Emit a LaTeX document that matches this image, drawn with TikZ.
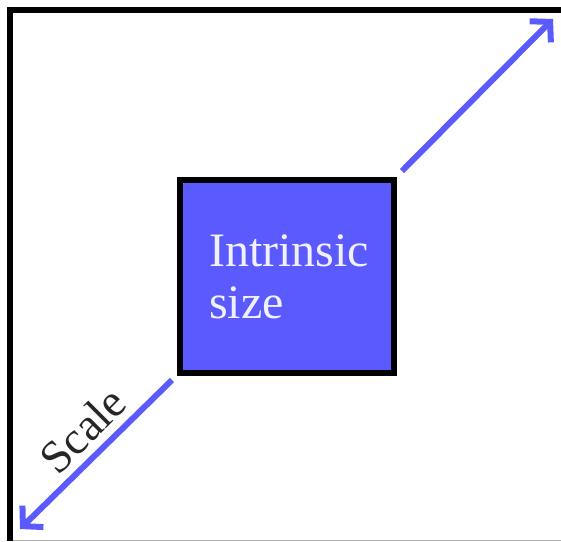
\documentclass[tikz,border=0pt]{standalone}
\usepackage{fontspec}
\setmainfont{Liberation Serif}
\usetikzlibrary{arrows.meta}
\definecolor{boxblue}{RGB}{90,90,255}
\definecolor{boxtext}{RGB}{240,240,255}
\begin{document}
\begin{tikzpicture}[x=1pt,y=-1pt,
 frame/.style={line width=6pt,black},
 scalearrow/.style={line width=6pt,boxblue,-{Straight Barb[length=14pt,width=30pt,sharp]}},
 sizebox/.style={draw=black,line width=6pt,fill=boxblue,minimum width=214pt,minimum height=193pt,inner sep=0pt},
]
\useasboundingbox (0,0) rectangle (561,541);
\draw[gray!60,line width=1pt] (13,540.5) -- (561,540.5);
\draw[frame] (10,541) -- (10,10) -- (561,10);
\node[sizebox] (box) at (287,276.5) {};
\node[text=boxtext,font=\fontsize{48}{52}\selectfont,align=left,anchor=north west,inner sep=0pt] (label) at (209,235) {Intrinsic\\size};
\coordinate (ustart) at (402,171);
\coordinate (uend) at (553,19);
\coordinate (lstart) at (172,380);
\coordinate (lend) at (20,529);
\draw[scalearrow] (ustart) -- (uend);
\draw[scalearrow] (lstart) -- (lend);
\node[rotate=45,font=\fontsize{46}{50}\selectfont,text=black!85,inner sep=0pt] (scale) at (83,430) {Scale};
\end{tikzpicture}
\end{document}
